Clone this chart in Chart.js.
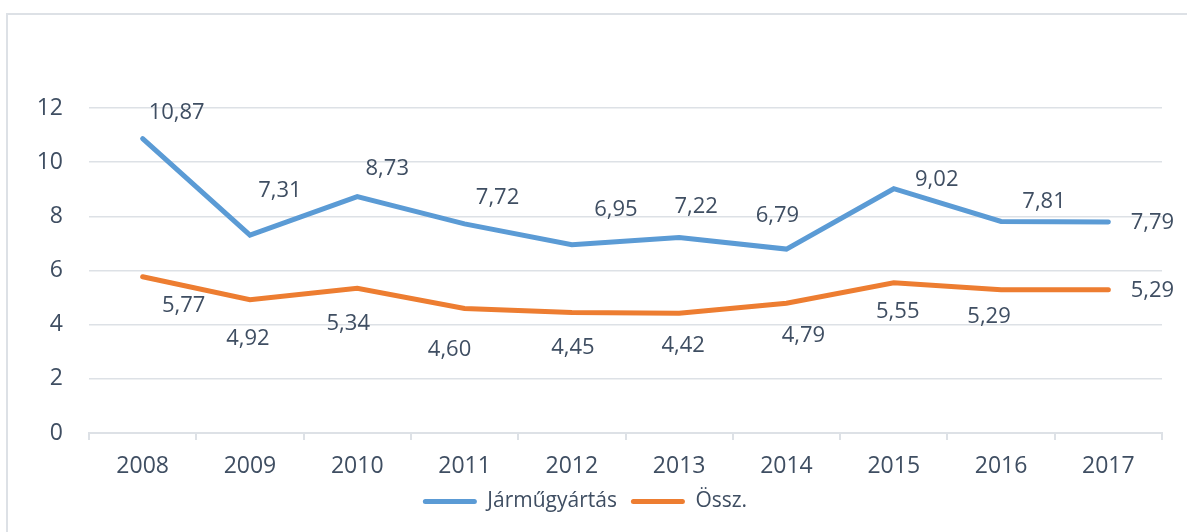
<!DOCTYPE html>
<html>
<head>
<meta charset="utf-8">
<script src="https://cdn.jsdelivr.net/npm/chart.js@4.4.1/dist/chart.umd.min.js"></script>
<style>
  html, body { margin: 0; padding: 0; background: #fff; overflow: hidden; }
  #frame {
    position: absolute; left: 6px; top: 13px;
    width: 1190px; height: 530px;
    border: 2px solid #DDE1E6;
  }
</style>
</head>
<body>
<div id="frame"><canvas id="chart"></canvas></div>
<script>
// evek es ertekek
const years = ["2008", "2009", "2010", "2011", "2012", "2013", "2014", "2015", "2016", "2017"];
const jarmu = [10.87, 7.31, 8.73, 7.72, 6.95, 7.22, 6.79, 9.02, 7.81, 7.79];
const ossz = [5.77, 4.92, 5.34, 4.60, 4.45, 4.42, 4.79, 5.55, 5.29, 5.29];
const yTicks = [0, 2, 4, 6, 8, 10, 12];

// cimkek eltolasa a ponthoz kepest (px)
const jarmuLabelOff = [[34, -26], [30, -44], [30, -28], [33, -26], [44, -35], [17, -31], [-9, -33], [43, -9], [43, -20], [44, 1]];
const osszLabelOff = [[41, 29], [-2, 39], [-9, 35], [-15, 41], [1, 35], [4, 32], [17, 32], [4, 29], [-12, 27], [44, 1]];

const textColor = "#3F4E62";
const gridColor = "#DDE1E6";

// adatcimkek kirajzolasa
const valueLabels = {
    id: "valueLabels",
    afterDatasetsDraw(chart) {
        const c = chart.ctx;
        const offs = [jarmuLabelOff, osszLabelOff];
        c.save();
        c.font = "22px 'Open Sans'";
        c.fillStyle = textColor;
        c.textAlign = "center";
        c.textBaseline = "middle";
        chart.data.datasets.forEach((ds, i) => {
            chart.getDatasetMeta(i).data.forEach((pt, j) => {
                const txt = ds.data[j].toFixed(2).replace(".", ",");
                c.fillText(txt, pt.x + offs[i][j][0], pt.y + offs[i][j][1]);
            });
        });
        c.restore();
    }
};

const ctx = document.getElementById("chart").getContext("2d");
const chart = new Chart(ctx, {
    type: "line",
    data: {
        labels: years,
        datasets: [
            {
                label: "Járműgyártás",
                data: jarmu,
                borderColor: "#5B9BD5",
                backgroundColor: "#5B9BD5",
                borderWidth: 5,
                borderCapStyle: "round",
                pointRadius: 0,
                tension: 0
            },
            {
                label: "Össz.",
                data: ossz,
                borderColor: "#ED7D31",
                backgroundColor: "#ED7D31",
                borderWidth: 5,
                borderCapStyle: "round",
                pointRadius: 0,
                tension: 0
            }
        ]
    },
    options: {
        responsive: true,
        maintainAspectRatio: false,
        animation: false,
        layout: {
            padding: { left: 0, right: 36, top: 93, bottom: 23 }
        },
        plugins: {
            tooltip: { enabled: false },
            legend: {
                position: "bottom",
                labels: {
                    color: textColor,
                    font: { family: "'Open Sans'", size: 21 },
                    boxWidth: 54,
                    boxHeight: 5,
                    padding: 14,
                    useBorderRadius: true,
                    borderRadius: 2.5,
                    generateLabels(ch) {
                        return Chart.defaults.plugins.legend.labels.generateLabels(ch).map(it => {
                            it.fillStyle = it.strokeStyle;
                            it.lineWidth = 0;
                            return it;
                        });
                    }
                }
            }
        },
        scales: {
            x: {
                offset: true,
                grid: {
                    display: true,
                    offset: true,
                    drawOnChartArea: false,
                    drawTicks: true,
                    tickLength: 7,
                    color: gridColor,
                    lineWidth: 2
                },
                border: { display: true, color: gridColor, width: 2 },
                ticks: {
                    color: textColor,
                    font: { family: "'Open Sans'", size: 23 },
                    padding: 13,
                    maxRotation: 0
                },
                afterFit(scale) { scale.height = 44; }
            },
            y: {
                min: 0,
                max: 12,
                afterBuildTicks(scale) {
                    scale.ticks = yTicks.map(v => ({ value: v }));
                },
                grid: {
                    color: gridColor,
                    lineWidth: 1.5,
                    drawTicks: false
                },
                border: { display: false },
                ticks: {
                    color: textColor,
                    font: { family: "'Open Sans'", size: 23 },
                    padding: 26
                },
                afterFit(scale) { scale.width = 81; }
            }
        }
    },
    plugins: [valueLabels]
});
</script>
</body>
</html>
